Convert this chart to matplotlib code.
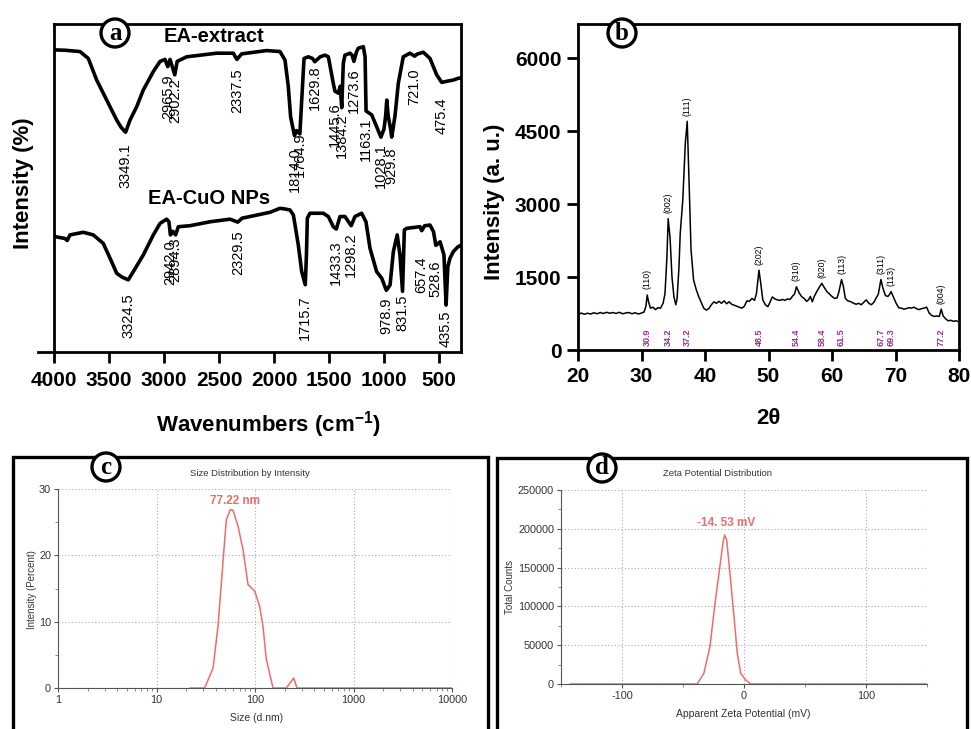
import matplotlib
matplotlib.use("Agg")
import numpy as np
import matplotlib.pyplot as plt
from matplotlib.patches import Rectangle
from matplotlib.ticker import MultipleLocator, FixedLocator, LogLocator, NullFormatter

plt.rcParams['font.family'] = ['Liberation Sans', 'DejaVu Sans']
plt.rcParams['mathtext.fontset'] = 'custom'
plt.rcParams['mathtext.rm'] = 'Liberation Sans:bold'
plt.rcParams['mathtext.it'] = 'Liberation Sans:bold'
plt.rcParams['mathtext.bf'] = 'Liberation Sans:bold'
plt.rcParams['axes.unicode_minus'] = False

# FTIR spectrum of the EA extract (wavenumber, transmittance)
ext_wn = [3995, 3900, 3764, 3688, 3612, 3552, 3491, 3430, 3390, 3349.1, 3309, 3248, 3188,
          3097, 3036, 2991, 2965.9, 2945, 2902.2, 2880, 2794, 2521, 2370, 2337.5, 2294,
          2067, 1946, 1900, 1870, 1849, 1814.0, 1795, 1764.9, 1748, 1727, 1688, 1650,
          1629.8, 1580, 1536, 1506, 1461, 1445.6, 1415, 1398, 1384.2, 1370, 1355, 1309,
          1290, 1273.6, 1250, 1234, 1188, 1172, 1163.1, 1112, 1067, 1028.1, 1000, 985,
          975, 962, 940, 929.8, 900, 870, 825, 764, 721.0, 700, 643, 582, 521, 475.4,
          420, 370, 330, 300]
ext_t = [92.1, 92.0, 91.6, 89.5, 82.9, 78.9, 74.8, 70.7, 68.5, 67.0, 70.7, 74.8, 79.9,
         85.5, 88.6, 89.2, 87.0, 89.2, 84.5, 88.6, 90.0, 91.1, 91.1, 89.2, 90.9,
         91.9, 91.6, 89.0, 80.9, 71.7, 66.0, 67.5, 66.5, 76.8, 89.5, 90.0, 89.5,
         88.5, 90.0, 90.5, 90.0, 81.9, 79.5, 78.9, 81.0, 74.5, 88.0, 90.5, 91.1,
         90.5, 88.6, 91.5, 92.6, 93.1, 90.0, 73.5, 72.3, 68.7, 65.5, 68.0, 72.0,
         76.8, 72.0, 68.0, 65.5, 72.0, 81.9, 90.0, 91.1, 90.2, 90.8, 91.4, 89.5, 84.5, 82.2,
         82.6, 82.9, 83.4, 83.6]

# FTIR spectrum of the EA-CuO nanoparticles
cuo_wn = [3995, 3900, 3880, 3855, 3733, 3643, 3552, 3476, 3430, 3380, 3324.5, 3279, 3188,
          3097, 3036, 2976, 2955, 2942.0, 2920, 2894.3, 2870, 2764, 2582, 2400, 2329.5,
          2290, 2218, 2036, 1946, 1900, 1855, 1824, 1779, 1748, 1715.7, 1705, 1697,
          1673, 1552, 1506, 1461, 1433.3, 1400, 1355, 1298.2, 1264, 1203, 1164, 1127,
          1067, 1021, 978.9, 945, 915, 880, 855, 831.5, 815, 794, 673, 657.4, 630, 582,
          550, 528.6, 490, 455, 435.5, 420, 400, 370, 330, 300]
cuo_t = [35.2, 34.6, 34.0, 35.7, 36.5, 35.7, 33.1, 27.5, 24.0, 22.8, 22.0, 24.5, 29.6,
         35.7, 39.2, 40.5, 39.7, 35.7, 36.8, 35.7, 38.2, 38.5, 39.7, 40.5, 39.6,
         40.8, 41.3, 42.6, 43.8, 43.6, 43.3, 41.8, 32.6, 24.5, 20.5, 29.6, 40.8,
         42.3, 42.3, 41.3, 38.2, 37.5, 41.3, 41.3, 38.5, 41.3, 42.3, 39.7, 31.6,
         24.5, 22.5, 18.8, 20.4, 30.6, 35.7, 29.6, 18.5, 37.2, 37.7, 38.2, 37.0, 38.5, 38.7,
         36.7, 32.5, 33.6, 29.6, 14.3, 26.0, 28.6, 30.6, 32.0, 32.6]

ext_peaks = [3349.1, 2965.9, 2902.2, 2337.5, 1814.0, 1764.9, 1629.8, 1445.6, 1384.2,
             1273.6, 1163.1, 1028.1, 929.8, 721.0, 475.4]
ext_label_top = [63.7, 84.5, 83.5, 86.6, 62.5, 67.1, 87.5, 76.2, 72.9, 86.6, 71.6,
                 63.7, 62.5, 86.6, 77.7]
cuo_peaks = [3324.5, 2942.0, 2894.3, 2329.5, 1715.7, 1433.3, 1298.2, 978.9, 831.5,
             657.4, 528.6, 435.5]
cuo_label_top = [18.0, 34.1, 34.8, 37.2, 17.4, 34.1, 36.6, 16.5, 17.4, 29.0, 28.0, 12.8]

# XRD pattern
two_theta = [20.0, 20.5, 21.0, 21.5, 22.0, 22.5, 23.0, 23.5, 24.0, 24.5, 25.0, 25.5, 26.0,
             26.5, 27.0, 27.5, 28.0, 28.5, 29.0, 29.5, 30.0, 30.4, 30.7, 30.9, 31.1, 31.4,
             31.8, 32.2, 32.6, 33.0, 33.4, 33.7, 34.0, 34.2, 34.5, 34.8, 35.1, 35.4, 35.6,
             35.9, 36.1, 36.5, 36.9, 37.2, 37.5, 37.8, 38.2, 38.6, 39.0, 39.4, 39.8, 40.2,
             40.6, 41.0, 41.4, 41.8, 42.2, 42.6, 43.0, 43.4, 43.8, 44.2, 44.6, 45.0, 45.4,
             45.8, 46.2, 46.6, 47.0, 47.4, 47.8, 48.1, 48.5, 48.8, 49.1, 49.5, 49.9, 50.3,
             50.6, 51.0, 51.4, 51.8, 52.2, 52.6, 53.0, 53.4, 53.8, 54.1, 54.4, 54.8, 55.2,
             55.6, 56.0, 56.3, 56.6, 56.9, 57.2, 57.6, 58.0, 58.4, 58.8, 59.2, 59.6, 60.0,
             60.4, 60.8, 61.1, 61.5, 61.8, 62.1, 62.5, 63.0, 63.4, 63.8, 64.2, 64.6, 65.0,
             65.4, 65.8, 66.2, 66.6, 67.0, 67.3, 67.7, 68.0, 68.4, 68.8, 69.1, 69.3, 69.7,
             70.1, 70.5, 70.9, 71.3, 71.7, 72.1, 72.5, 72.9, 73.3, 73.7, 74.1, 74.5, 74.9,
             75.3, 75.7, 76.1, 76.5, 76.9, 77.2, 77.5, 77.9, 78.3, 78.7, 79.1, 79.5, 80.0]
counts = [720, 760, 735, 755, 740, 765, 745, 770, 750, 775, 755, 770, 750,
          775, 745, 760, 770, 745, 765, 740, 760, 780, 900, 1130, 1000, 860,
          880, 830, 870, 860, 960, 1160, 1900, 2700, 2300, 1500, 1100, 930, 1050,
          1700, 2400, 3080, 4250, 4700, 3420, 2060, 1440, 1250, 1100, 980, 860, 820,
          850, 930, 990, 960, 1000, 960, 1010, 950, 990, 940, 920, 900, 880,
          860, 900, 1010, 1000, 1060, 1020, 1160, 1640, 1350, 1030, 930, 890, 1000,
          1090, 1050, 1030, 1020, 1040, 1020, 1050, 1040, 1110, 1150, 1300, 1180, 1100,
          1060, 1000, 1030, 1100, 990, 1100, 1200, 1290, 1370, 1280, 1200, 1150, 1100,
          1060, 1070, 1200, 1450, 1300, 1060, 1010, 990, 960, 940, 960, 930, 980,
          1030, 960, 930, 980, 1080, 1150, 1450, 1280, 1120, 1100, 1150, 1200, 1080,
          960, 870, 860, 840, 850, 870, 860, 880, 850, 830, 850, 860, 880,
          760, 710, 690, 700, 690, 840, 700, 640, 600, 610, 590, 600, 580]
xrd_peaks = [30.9, 34.2, 37.2, 48.5, 54.4, 58.4, 61.5, 67.7, 69.3, 77.2]
xrd_hkl = ['(110)', '(002)', '(111)', '(202)', '(310)', '(020)', '(113)', '(311)',
           '(113)', '(004)']

# DLS size distribution
dls_size = [22.0, 30.8, 37.5, 42.1, 48.1, 51.2, 56.2, 59.8, 67.2, 75.5, 84.9, 99.3,
            111.5, 120.5, 130.3, 152.4, 208, 247, 267, 10000]
dls_int = [0, 0, 3.0, 9.3, 20.4, 25.4, 26.9, 26.8, 24.4, 20.9, 15.6, 14.6,
           12.3, 9.3, 4.3, 0, 0, 1.5, 0, 0]
dls_ticks = [1, 10, 100, 1000, 10000]

# Zeta potential distribution
zeta_mv = [-142, -38.4, -32.9, -27.9, -24.1, -20.5, -17.3, -15.9, -14.2, -11.5, -8.2,
           -5.5, -2.7, 1.4, 5.5, 150]
zeta_counts = [0, 0, 13750, 48100, 99700, 142600, 181300, 192000, 185600, 142600, 86800,
               39500, 13750, 5150, 0, 0]

W, H = 971, 729
RED = '#f26a6a'
GREY = '#333333'


def box(left, top, right, bottom):
    return [left / W, 1 - bottom / H, (right - left) / W, (bottom - top) / H]


def fig_text(fig, x, y, s, **kw):
    return fig.text(x / W, 1 - y / H, s, **kw)


def panel_badge(fig, x, y, letter):
    fig_text(fig, x, y, letter, fontsize=18, fontweight='bold', family='Liberation Serif',
             ha='center', va='center', zorder=10,
             bbox=dict(boxstyle='circle,pad=0.1', fc='white', ec='black', lw=2.4))


def instrument_axes(ax):
    # light dotted grid and thin grey axes, as in the analyser software plots
    ax.grid(True, which='major', ls=(0, (1, 2)), color='#aaaaaa', lw=0.8)
    for side in ('top', 'right'):
        ax.spines[side].set_visible(False)
    for side in ('left', 'bottom'):
        ax.spines[side].set_color('#555555')
        ax.spines[side].set_linewidth(0.8)
    ax.tick_params(which='major', length=3, width=0.8, colors='#555555', labelsize=7.8,
                   labelcolor=GREY, pad=2)
    ax.tick_params(which='minor', length=2, width=0.6, colors='#777777')


fig = plt.figure(figsize=(W / 100, H / 100), dpi=100)

# ---- (a) FTIR ----
ax = fig.add_axes(box(54, 24, 461, 352))
ax.plot(ext_wn, ext_t, color='black', lw=2.6, solid_joinstyle='round')
ax.plot(cuo_wn, cuo_t, color='black', lw=2.6, solid_joinstyle='round')
ax.set_xlim(4000, 300)
ax.set_ylim(0, 100)
ax.set_yticks([])
ax.set_xticks(range(4000, 499, -500))
ax.tick_params(axis='x', direction='out', length=8, width=2, labelsize=15, pad=6)
for lbl in ax.get_xticklabels():
    lbl.set_fontweight('bold')
for sp in ax.spines.values():
    sp.set_linewidth(2)
ax.plot([-16 / 407, 0], [0, 0], transform=ax.transAxes, clip_on=False, color='black', lw=2)
for wn, top in zip(ext_peaks, ext_label_top):
    ax.text(wn, top, f'{wn:.1f}', rotation=90, ha='center', va='top', fontsize=10.5)
for wn, top in zip(cuo_peaks, cuo_label_top):
    ax.text(wn, top, f'{wn:.1f}', rotation=90, ha='center', va='top', fontsize=10.5)
fig_text(fig, 214, 37, 'EA-extract', fontsize=14.5, fontweight='bold', ha='center', va='center')
fig_text(fig, 209, 198, 'EA-CuO NPs', fontsize=14.5, fontweight='bold', ha='center', va='center')
fig_text(fig, 23, 183, 'Intensity (%)', fontsize=16, fontweight='bold', rotation=90,
         ha='center', va='center')
fig_text(fig, 268, 425, r'Wavenumbers (cm$^{-1}$)', fontsize=16, fontweight='bold',
         ha='center', va='center')

# ---- (b) XRD ----
ax = fig.add_axes(box(578, 24, 959, 350))
ax.plot(two_theta, counts, color='black', lw=1.1)
ax.set_xlim(20, 80)
ax.set_ylim(0, 6700)
ax.set_xticks(range(20, 81, 10))
ax.set_yticks([0, 1500, 3000, 4500, 6000])
ax.tick_params(direction='out', length=8, width=2, labelsize=15, pad=4)
for lbl in ax.get_xticklabels() + ax.get_yticklabels():
    lbl.set_fontweight('bold')
for sp in ax.spines.values():
    sp.set_linewidth(2)
for pos, hkl in zip(xrd_peaks, xrd_hkl):
    top = np.interp(pos, two_theta, counts)
    ax.annotate(hkl, (pos, top), xytext=(0, 4), textcoords='offset points',
                rotation=90, ha='center', va='bottom', fontsize=6.3)
    ax.text(pos, 270, f'{pos:.1f}', rotation=90, ha='center', va='center',
            fontsize=6.5, fontweight='bold', color='#a02a9a')
fig_text(fig, 494, 202, 'Intensity (a. u.)', fontsize=16, fontweight='bold', rotation=90,
         ha='center', va='center')
fig_text(fig, 768, 418, '2θ', fontsize=16, fontweight='bold', ha='center', va='center')

# ---- (c) DLS ----
fig.add_artist(Rectangle((13 / W, -0.02), (488 - 13) / W, (729 - 457) / H + 0.02,
                         transform=fig.transFigure, fill=False, ec='black', lw=2.4))
ax = fig.add_axes(box(58, 489, 452, 688))
ax.semilogx(dls_size, dls_int, color=RED, lw=1.1)
ax.set_xlim(1, 10000)
ax.set_ylim(0, 30)
ax.set_yticks([0, 10, 20, 30])
ax.yaxis.set_minor_locator(MultipleLocator(5))
ax.xaxis.set_major_locator(FixedLocator(dls_ticks))
ax.xaxis.set_minor_locator(LogLocator(base=10, subs=np.arange(2, 10)))
ax.xaxis.set_minor_formatter(NullFormatter())
ax.set_xticklabels([str(t) for t in dls_ticks])
instrument_axes(ax)
ax.text(77.22 * 0.82, 28.2, '77.22 nm', color=RED, fontsize=8.5, fontweight='bold',
        ha='center', va='center')
fig_text(fig, 250, 473, 'Size Distribution by Intensity', fontsize=6.8, color=GREY,
         ha='center', va='center')
fig_text(fig, 32, 590, 'Intensity (Percent)', fontsize=7, color=GREY, rotation=90,
         ha='center', va='center')
fig_text(fig, 257, 718, 'Size (d.nm)', fontsize=7.5, color=GREY, ha='center', va='center')

# ---- (d) Zeta potential ----
fig.add_artist(Rectangle((497 / W, -0.02), (967 - 497) / W, (729 - 458) / H + 0.02,
                         transform=fig.transFigure, fill=False, ec='black', lw=2.4))
ax = fig.add_axes(box(561, 490, 927, 684))
ax.plot(zeta_mv, zeta_counts, color=RED, lw=1.1)
ax.set_xlim(-150, 150)
ax.set_ylim(0, 250000)
ax.set_xticks([-100, 0, 100])
ax.xaxis.set_minor_locator(MultipleLocator(50))
ax.set_yticks(range(0, 250001, 50000))
ax.yaxis.set_minor_locator(MultipleLocator(25000))
instrument_axes(ax)
ax.axvline(150, ls=(0, (1, 2)), color='#aaaaaa', lw=0.8)
ax.text(-14.53, 208000, '-14. 53 mV', color=RED, fontsize=8.5, fontweight='bold',
        ha='center', va='center')
fig_text(fig, 717, 473, 'Zeta Potential Distribution', fontsize=6.8, color=GREY,
         ha='center', va='center')
fig_text(fig, 510, 587, 'Total Counts', fontsize=7, color=GREY, rotation=90,
         ha='center', va='center')
fig_text(fig, 743, 714, 'Apparent Zeta Potential (mV)', fontsize=7.5, color=GREY,
         ha='center', va='center')

panel_badge(fig, 115, 33, 'a')
panel_badge(fig, 622, 33, 'b')
panel_badge(fig, 106, 467, 'c')
panel_badge(fig, 602, 468, 'd')

fig.savefig('out.png', dpi=100)
